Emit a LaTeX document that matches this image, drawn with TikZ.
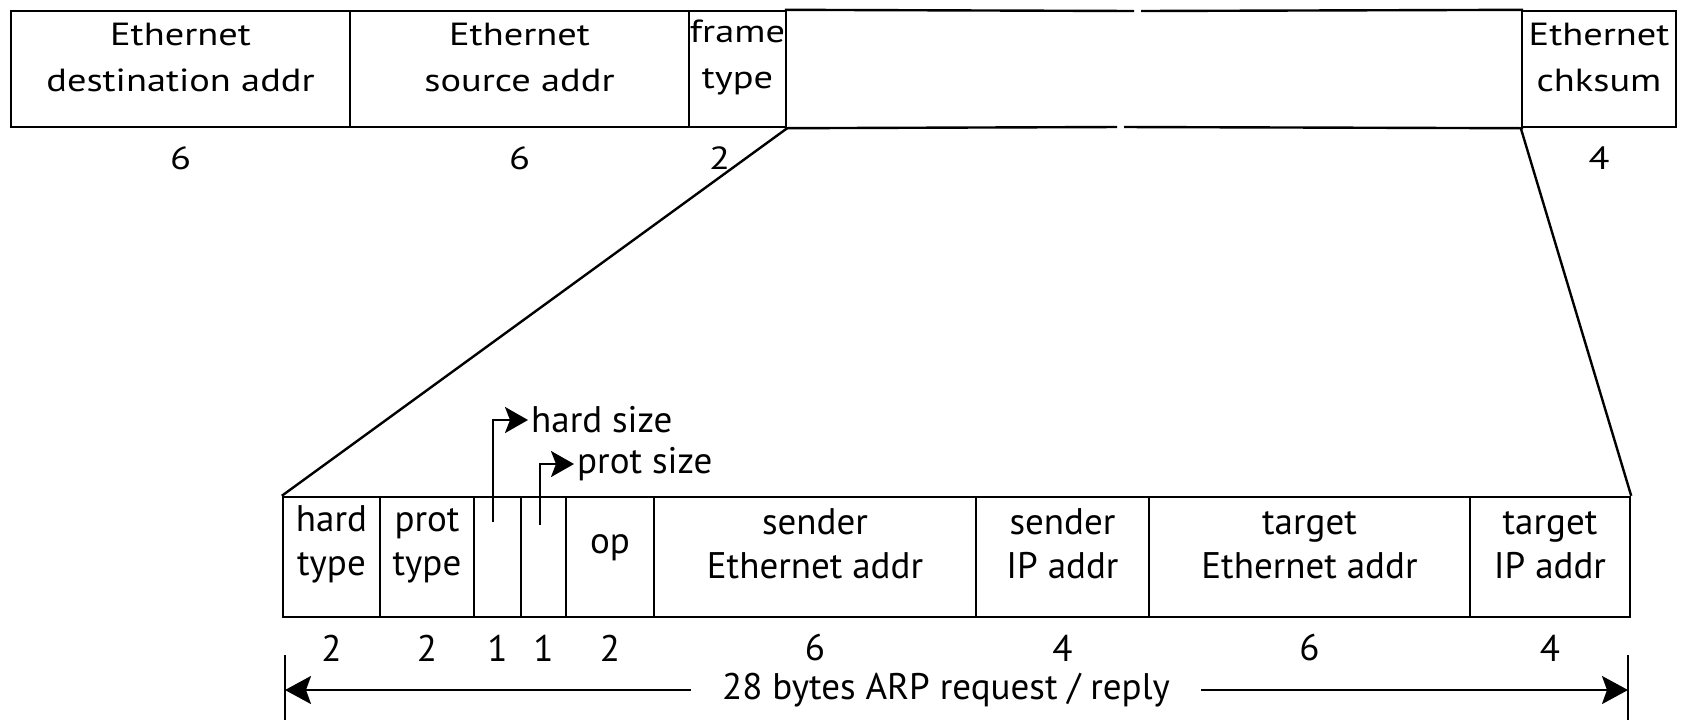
\documentclass[tikz,border=0pt]{standalone}
\usepackage{fontspec}
\setmainfont{PT Sans}
\newfontfamily\topfam[FakeStretch=1.2]{PT Sans}
\usetikzlibrary{fit,arrows.meta}
\newcommand{\topfnt}{\topfam\fontsize{16}{23}\selectfont}
\newcommand{\botfnt}{\fontsize{18.5}{22}\selectfont}
\begin{document}
\begin{tikzpicture}[x=0.5pt,y=-0.5pt,line width=1.2pt,
  fld/.style={draw,inner sep=0pt,align=center,font=\topfnt},
  bfld/.style={draw,inner sep=0pt,align=center,font=\botfnt},
  num/.style={inner sep=0pt,font=\topfnt},
  bnum/.style={inner sep=0pt,font=\botfnt},
  arr/.style={-{Stealth[length=11.5pt,width=13pt,inset=2.5pt]}},
  darr/.style={-{Stealth[length=13pt,width=14pt,inset=2.5pt]}}]
\useasboundingbox (0,0) rectangle (1687,720);
% top frame
\node[fld,fit={(11,11)(350,127)}] (dst) {Ethernet\\destination addr};
\node[fld,fit={(350,11)(689,127)}] (src) {Ethernet\\source addr};
\node[fld,fit={(689,11)(786,127)}] (ftype) {frame\\type};
\node[inner sep=0pt,fit={(786,11)(1522,127)}] (data) {};
\node[fld,fit={(1522,11)(1676,127)}] (chk) {Ethernet\\chksum};
\coordinate (gt1) at (1134,11);
\coordinate (gt2) at (1141,11);
\coordinate (gb1) at (1117,127);
\coordinate (gb2) at (1124,127);
\draw (data.north west) -- (gt1);
\draw (gt2) -- (data.north east);
\draw (data.south west) -- (gb1);
\draw (gb2) -- (data.south east);
\coordinate (toprow) at (0,158);
\node[num] at (dst.south |- toprow) {6};
\node[num] at (src.south |- toprow) {6};
\node[num] at ([xshift=-9pt]ftype.south |- toprow) {2};
\node[num] at (chk.south |- toprow) {4};
% ARP packet
\node[bfld,fit={(283,497)(380,617)}] (htype) {hard\\type};
\node[bfld,fit={(380,497)(474,617)}] (ptype) {prot\\type};
\node[bfld,fit={(474,497)(521,617)}] (hlen) {};
\node[bfld,fit={(521,497)(566,617)}] (plen) {};
\node[bfld,fit={(566,497)(654,617)}] (op) {op};
\node[bfld,fit={(654,497)(976,617)}] (sha) {sender\\Ethernet addr};
\node[bfld,fit={(976,497)(1149,617)}] (spa) {sender\\IP addr};
\node[bfld,fit={(1149,497)(1470,617)}] (tha) {target\\Ethernet addr};
\node[bfld,fit={(1470,497)(1630,617)}] (tpa) {target\\IP addr};
% expansion lines
\draw (ftype.south east) -- (htype.north west);
\draw (chk.south west) -- (tpa.north east);
% sizes
\coordinate (botrow) at (0,648);
\foreach \f/\n in {htype/2,ptype/2,hlen/1,plen/1,op/2,sha/6,spa/4,tha/6,tpa/4}
  \node[bnum] at (\f.south |- botrow) {\n};
% hard size / prot size
\node[anchor=west,inner sep=1pt,font=\botfnt] (hs) at (528,420) {hard size};
\node[anchor=west,inner sep=1pt,font=\botfnt] (ps) at (574,464) {prot size};
\coordinate (hsfoot) at (493,522);
\coordinate (psfoot) at (540,525);
\draw[arr] (hsfoot) |- (hs.west);
\draw[arr] (psfoot) |- (ps.west);
% total length
\coordinate (tickL) at (285,655);
\coordinate (tickR) at (1628,655);
\draw (tickL) -- ++(0,65);
\draw (tickR) -- ++(0,65);
\node[inner sep=0pt,inner xsep=15pt,font=\botfnt] (tot) at (946,690) {28 bytes ARP request / reply};
\draw[darr] (tot.west) -- (tot.west -| tickL);
\draw[darr] (tot.east) -- (tot.east -| tickR);
\end{tikzpicture}
\end{document}
